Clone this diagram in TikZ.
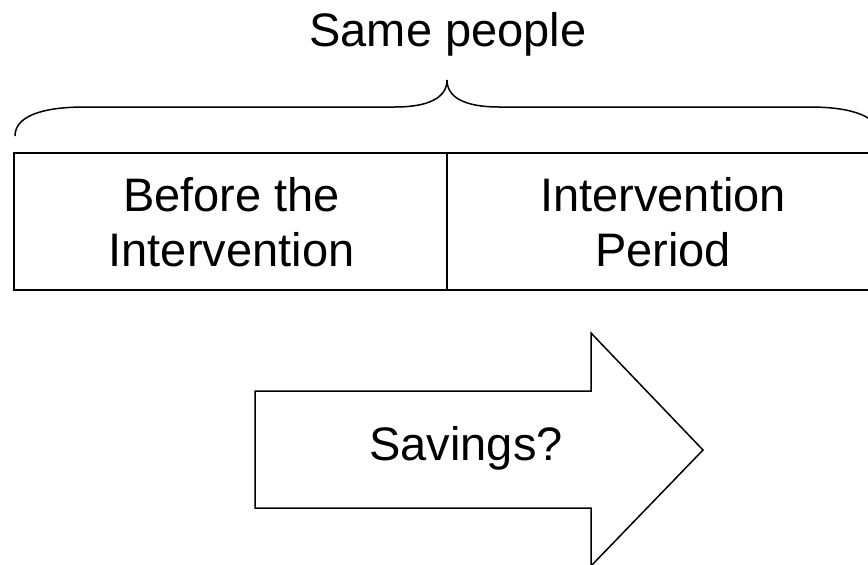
\documentclass[tikz,border=0pt]{standalone}
\usepackage{fontspec}
\setmainfont{Liberation Sans}
\begin{document}
\begin{tikzpicture}[x=1pt,y=-1pt,
  lbl/.style={font=\fontsize{47}{55}\selectfont, align=center, inner sep=0pt},
  boxline/.style={draw=black, line width=2pt, line join=miter},
  thinline/.style={draw=black, line width=1.5pt, line join=miter}]
\useasboundingbox (0,0) rectangle (868,565);
\clip (0,0) rectangle (868,565);
% brace
\draw[thinline] (15,136) .. controls (15,117) and (40,107) .. (85,107) -- (395,107)
  .. controls (430,107) and (447,97) .. (447,80)
  .. controls (447,97) and (464,107) .. (499,107) -- (809,107)
  .. controls (854,107) and (879,117) .. (879,136);
\node[lbl, anchor=base] (same) at (448,46) {Same people};
% boxes
\node[boxline, minimum width=433pt, minimum height=137pt, inner sep=0pt] (before) at (230.5,221.5) {};
\node[boxline, minimum width=432pt, minimum height=137pt, inner sep=0pt] (during) at (663,221.5) {};
\node[lbl] (beforetxt) at (231.5,222.3) {Before the\\Intervention};
\node[lbl] (duringtxt) at (663,222.3) {Intervention\\Period};
% arrow
\draw[thinline] (255,391) -- (591,391) -- (591,333) -- (703,450) -- (591,566) -- (591,508) -- (255,508) -- cycle;
\node[lbl, anchor=base] (savings) at (466,460) {Savings?};
\end{tikzpicture}
\end{document}
